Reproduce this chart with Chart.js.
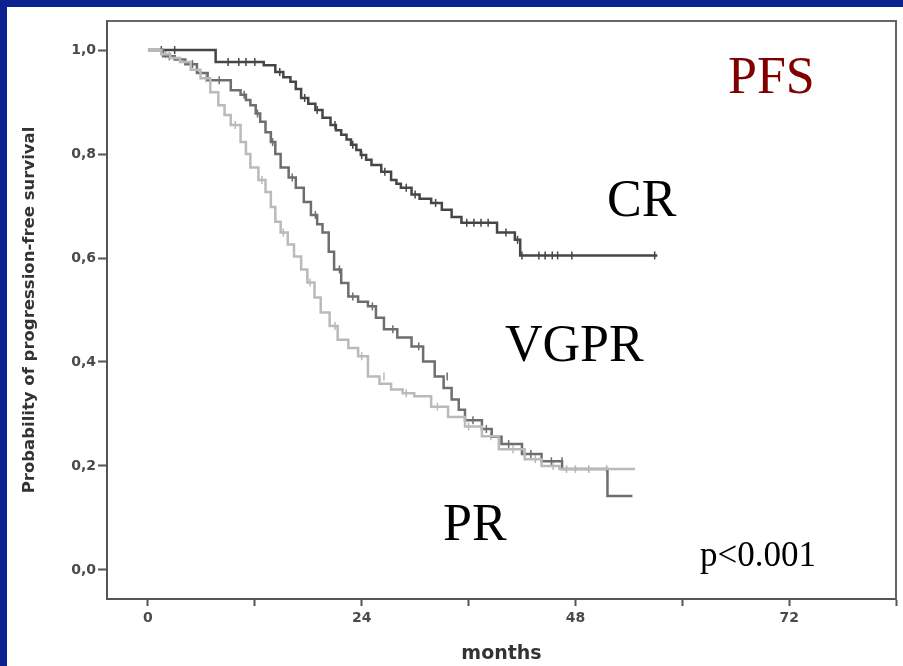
<!DOCTYPE html>
<html>
<head>
<meta charset="utf-8">
<script src="https://cdn.jsdelivr.net/npm/chart.js@4.4.1/dist/chart.umd.min.js"></script>
<style>
  html, body { margin: 0; padding: 0; background: #0c2190; }
  canvas { display: block; }
</style>
</head>
<body>
<canvas id="pfsChart" width="903" height="666"></canvas>
<script>
// axis ticks
const xTicks = [0, 12, 24, 36, 48, 60, 72, 84];
const xLabels = ["0", "", "24", "", "48", "", "72", ""];
const yTicks = [0, 0.2, 0.4, 0.6, 0.8, 1.0];
const yLabels = ["0,0", "0,2", "0,4", "0,6", "0,8", "1,0"];

// Kaplan-Meier steps [months, survival]
const crCurve = [
  [0, 1.0], [7.6, 0.977], [13.0, 0.971], [14.3, 0.958], [15.2, 0.948], [16.0, 0.939],
  [16.6, 0.925], [17.2, 0.908], [18.0, 0.897], [18.8, 0.885], [19.6, 0.870], [20.5, 0.856],
  [21.1, 0.846], [21.7, 0.837], [22.3, 0.828], [22.8, 0.818], [23.4, 0.808], [23.9, 0.798],
  [24.5, 0.789], [25.1, 0.779], [26.2, 0.766], [27.3, 0.750], [27.9, 0.743], [28.4, 0.735],
  [29.6, 0.722], [30.5, 0.714], [31.8, 0.706], [33.0, 0.693], [34.1, 0.679], [35.2, 0.668],
  [39.2, 0.649], [41.2, 0.635], [41.8, 0.605], [57.2, 0.605]
];
const vgprCurve = [
  [0, 1.0], [1.7, 0.988], [3.0, 0.982], [4.2, 0.973], [5.5, 0.956], [6.7, 0.942],
  [9.3, 0.923], [10.4, 0.914], [11.0, 0.904], [11.5, 0.894], [12.1, 0.878], [12.6, 0.862],
  [13.2, 0.842], [13.8, 0.823], [14.3, 0.800], [14.9, 0.774], [15.8, 0.755], [16.6, 0.735],
  [17.5, 0.708], [18.3, 0.683], [19.0, 0.665], [19.6, 0.649], [20.3, 0.612], [20.9, 0.578],
  [21.7, 0.552], [22.5, 0.526], [23.6, 0.516], [24.7, 0.507], [25.6, 0.485], [26.5, 0.463],
  [28.0, 0.447], [29.6, 0.430], [30.9, 0.401], [32.2, 0.372], [33.2, 0.350], [34.1, 0.328],
  [34.9, 0.308], [35.6, 0.288], [37.5, 0.271], [38.6, 0.256], [39.7, 0.242], [42.0, 0.223],
  [44.2, 0.209], [46.5, 0.194], [51.6, 0.142], [54.4, 0.142]
];
const prCurve = [
  [0, 1.0], [1.5, 0.992], [2.5, 0.985], [3.6, 0.977], [4.8, 0.962], [5.9, 0.946],
  [7.0, 0.919], [7.9, 0.894], [8.6, 0.875], [9.3, 0.856], [10.4, 0.823], [11.0, 0.800],
  [11.5, 0.774], [12.4, 0.750], [13.2, 0.727], [13.8, 0.698], [14.3, 0.670], [14.9, 0.649],
  [15.7, 0.626], [16.4, 0.603], [17.2, 0.578], [17.9, 0.553], [18.7, 0.524], [19.4, 0.495],
  [20.4, 0.469], [21.3, 0.443], [22.5, 0.427], [23.6, 0.411], [24.7, 0.372], [26.0, 0.358],
  [27.3, 0.347], [28.6, 0.340], [29.9, 0.334], [31.8, 0.314], [33.7, 0.294], [35.6, 0.276],
  [37.5, 0.257], [39.4, 0.232], [42.3, 0.213], [44.2, 0.200], [46.2, 0.194], [54.7, 0.194]
];

// censored observations
const crCensor = [
  [1.5, 1.0], [3.0, 1.0], [9.0, 0.977], [10.2, 0.977], [11.0, 0.977], [12.0, 0.977],
  [14.8, 0.958], [17.6, 0.908], [19.0, 0.885], [21.0, 0.856], [23.0, 0.818], [24.0, 0.798],
  [26.6, 0.766], [29.0, 0.735], [30.0, 0.722], [32.3, 0.706], [35.8, 0.668], [36.6, 0.668],
  [37.4, 0.668], [38.2, 0.668], [40.2, 0.649], [41.5, 0.635], [42.0, 0.605], [43.9, 0.605],
  [44.6, 0.605], [45.4, 0.605], [46.0, 0.605], [47.6, 0.605], [56.9, 0.605]
];
const vgprCensor = [
  [2.4, 0.988], [5.0, 0.973], [8.0, 0.942], [10.8, 0.914], [12.3, 0.878], [14.0, 0.823],
  [16.2, 0.755], [18.8, 0.683], [21.5, 0.578], [23.0, 0.526], [25.2, 0.507], [27.5, 0.463],
  [30.4, 0.430], [33.6, 0.372], [36.5, 0.288], [38.0, 0.271], [40.5, 0.242], [43.0, 0.223],
  [45.3, 0.209], [46.5, 0.209]
];
const prCensor = [
  [2.0, 0.992], [6.5, 0.946], [9.8, 0.856], [12.8, 0.750], [15.2, 0.649], [18.2, 0.553],
  [21.0, 0.469], [24.0, 0.411], [26.5, 0.372], [29.0, 0.340], [32.5, 0.314], [36.0, 0.276],
  [38.5, 0.257], [41.0, 0.232], [43.5, 0.213], [45.5, 0.200], [47.0, 0.194], [48.0, 0.194],
  [49.5, 0.194], [51.5, 0.194]
];

const toXY = arr => arr.map(([x, y]) => ({ x, y }));

function curve(data, color) {
  return {
    data: toXY(data),
    showLine: true,
    stepped: true,
    borderColor: color,
    borderWidth: 2.5,
    pointRadius: 0
  };
}
function censor(data, color) {
  return {
    data: toXY(data),
    showLine: false,
    pointStyle: "line",
    rotation: 90,
    pointRadius: 4,
    borderWidth: 1.5,
    borderColor: color,
    backgroundColor: color
  };
}

// slide background + blue frame
const slideBg = {
  id: "slideBg",
  beforeDraw(chart) {
    const { ctx, width, height } = chart;
    ctx.save();
    ctx.fillStyle = "#0c2190";
    ctx.fillRect(0, 0, width, height);
    ctx.fillStyle = "#ffffff";
    ctx.fillRect(7, 7, width - 7, height - 7);
    ctx.restore();
  }
};

// top and right side of the plot box
const boxFrame = {
  id: "boxFrame",
  beforeDatasetsDraw(chart) {
    const { ctx, chartArea: a } = chart;
    ctx.save();
    ctx.strokeStyle = "#666";
    ctx.lineWidth = 2;
    ctx.beginPath();
    ctx.moveTo(a.left, a.top);
    ctx.lineTo(a.right, a.top);
    ctx.lineTo(a.right, a.bottom);
    ctx.stroke();
    ctx.restore();
  }
};

// slide labels
const labels = {
  id: "labels",
  afterDraw(chart) {
    const ctx = chart.ctx;
    ctx.save();
    ctx.textBaseline = "alphabetic";
    ctx.textAlign = "left";
    ctx.font = '52px "Liberation Serif", "Times New Roman", serif';
    ctx.fillStyle = "#800000";
    ctx.fillText("PFS", 728, 93);
    ctx.fillStyle = "#000";
    ctx.fillText("CR", 607, 216);
    ctx.fillText("VGPR", 505, 361);
    ctx.fillText("PR", 443, 540);
    ctx.font = '35px "Liberation Serif", "Times New Roman", serif';
    ctx.fillText("p<0.001", 700, 566);
    ctx.restore();
  }
};

const tickFont = { family: "DejaVu Sans", size: 14, weight: "bold" };

new Chart(document.getElementById("pfsChart"), {
  type: "scatter",
  data: {
    datasets: [
      curve(prCurve, "#bababa"),
      curve(vgprCurve, "#6e6e6e"),
      curve(crCurve, "#464646"),
      censor(prCensor, "#bababa"),
      censor(vgprCensor, "#6e6e6e"),
      censor(crCensor, "#464646")
    ]
  },
  options: {
    responsive: false,
    animation: false,
    layout: { padding: { left: 0, top: 21, right: 7, bottom: 0 } },
    plugins: { legend: { display: false }, tooltip: { enabled: false } },
    scales: {
      x: {
        type: "linear",
        min: -4.6,
        max: 84,
        afterBuildTicks: s => { s.ticks = xTicks.map(v => ({ value: v })); },
        afterFit: s => { s.height = 67; },
        ticks: {
          autoSkip: false,
          maxRotation: 0,
          padding: 4,
          color: "#4a4a4a",
          font: tickFont,
          callback: v => xLabels[xTicks.indexOf(v)]
        },
        grid: { drawOnChartArea: false, drawTicks: true, tickLength: 7, color: "#555", tickWidth: 2 },
        border: { display: true, color: "#555", width: 2 },
        title: {
          display: true,
          text: "months",
          color: "#333",
          font: { family: "DejaVu Sans", size: 19, weight: "bold" },
          padding: { top: 0, bottom: 1 }
        }
      },
      y: {
        min: -0.056,
        max: 1.056,
        afterBuildTicks: s => { s.ticks = yTicks.map(v => ({ value: v })); },
        afterFit: s => { s.width = 107; },
        ticks: {
          padding: 2,
          color: "#4a4a4a",
          font: tickFont,
          callback: v => yLabels[yTicks.indexOf(v)]
        },
        grid: { drawOnChartArea: false, drawTicks: true, tickLength: 9, color: "#555", tickWidth: 2 },
        border: { display: true, color: "#555", width: 2 },
        title: {
          display: true,
          text: "Probability of progression-free survival",
          color: "#333",
          font: { family: "DejaVu Sans", size: 16.5, weight: "bold" },
          padding: { top: 20, bottom: 0 }
        }
      }
    }
  },
  plugins: [slideBg, boxFrame, labels]
});
</script>
</body>
</html>
